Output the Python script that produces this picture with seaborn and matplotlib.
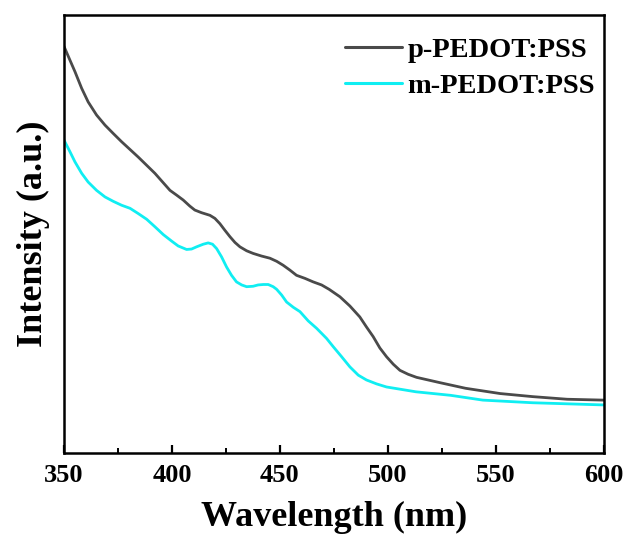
import matplotlib
matplotlib.use("Agg")
import matplotlib.pyplot as plt
import seaborn as sns
import pandas as pd
from matplotlib.ticker import MultipleLocator

sns.set_theme(style="white")
plt.rcParams['font.family'] = ['Liberation Serif', 'DejaVu Serif']
plt.rcParams['font.weight'] = 'bold'
plt.rcParams['text.color'] = 'black'
plt.rcParams['axes.labelcolor'] = 'black'
plt.rcParams['xtick.color'] = 'black'

# p-PEDOT:PSS
p_wl = [350, 352.8, 355.1, 358.2, 361.2, 365.1, 369, 372.8, 376.7, 384.4, 392.1, 399.1,
        402.2, 405.2, 408.3, 410.6, 413.7, 417.6, 419.9, 422.2, 424.5, 426.9, 429.2,
        431.5, 434.6, 437.6, 441.5, 445.4, 448.5, 451.5, 454.6, 457.7, 461.6, 465.4,
        469.3, 472.8, 477.8, 482.4, 487, 490.1, 493.2, 496.3, 499.4, 502.5, 505.6,
        509.4, 513.3, 524, 536, 552, 567, 583, 600]
p_int = [0.929, 0.897, 0.871, 0.833, 0.802, 0.772, 0.749, 0.730, 0.711, 0.676, 0.639, 0.600,
         0.589, 0.578, 0.564, 0.555, 0.549, 0.543, 0.536, 0.524, 0.509, 0.494, 0.481,
         0.471, 0.462, 0.456, 0.450, 0.445, 0.438, 0.429, 0.418, 0.406, 0.399, 0.391,
         0.384, 0.374, 0.357, 0.336, 0.311, 0.288, 0.266, 0.240, 0.220, 0.203, 0.189,
         0.180, 0.173, 0.161, 0.148, 0.136, 0.129, 0.123, 0.121]

# m-PEDOT:PSS
m_wl = [350, 352.8, 355.1, 358.2, 361.2, 365.1, 369, 372.8, 376.7, 380.6, 384.4, 388.3,
        392.1, 396, 399.9, 402.9, 406.8, 409.1, 411.4, 414.5, 416.8, 418.8, 420.7, 423,
        425.3, 427.6, 429.9, 432.3, 434.6, 437.6, 439.9, 442.3, 444.6, 446.9, 448.5,
        450.8, 453.1, 456.2, 459.3, 463.1, 467, 471.6, 474.7, 478.6, 482.4, 486.3,
        490.1, 494.8, 499.4, 513, 529, 544, 567, 600]
m_int = [0.715, 0.688, 0.665, 0.639, 0.619, 0.600, 0.585, 0.575, 0.566, 0.559, 0.547, 0.534,
         0.517, 0.499, 0.484, 0.473, 0.465, 0.466, 0.471, 0.477, 0.480, 0.477, 0.467, 0.448,
         0.425, 0.406, 0.391, 0.384, 0.380, 0.381, 0.384, 0.385, 0.385, 0.380, 0.374,
         0.361, 0.345, 0.333, 0.323, 0.302, 0.285, 0.262, 0.243, 0.220, 0.197, 0.178,
         0.167, 0.158, 0.151, 0.140, 0.132, 0.121, 0.115, 0.110]

df = pd.concat([
    pd.DataFrame({"Wavelength": p_wl, "Intensity": p_int, "Sample": "p-PEDOT:PSS"}),
    pd.DataFrame({"Wavelength": m_wl, "Intensity": m_int, "Sample": "m-PEDOT:PSS"}),
])

fig = plt.figure(figsize=(6.27, 5.42), dpi=100)
ax = fig.add_axes([0.102, 0.164, 0.861, 0.808])
sns.lineplot(data=df, x="Wavelength", y="Intensity", hue="Sample",
             palette={"p-PEDOT:PSS": "#4a4a4a", "m-PEDOT:PSS": "#10eef2"},
             linewidth=2.0, ax=ax, sort=True)
for ln in ax.get_lines():
    ln.set_solid_joinstyle('round')
    ln.set_solid_capstyle('round')

ax.set_xlim(350, 600)
ax.set_ylim(0, 1)
ax.xaxis.set_major_locator(MultipleLocator(50))
ax.xaxis.set_minor_locator(MultipleLocator(25))
ax.set_yticks([])
ax.tick_params(axis='x', which='major', direction='in', length=6, width=1.6,
               labelsize=19, pad=8, bottom=True, top=False)
ax.tick_params(axis='x', which='minor', direction='in', length=3.5, width=1.4,
               bottom=True, top=False)
for lab in ax.get_xticklabels():
    lab.set_fontweight('bold')
for s in ax.spines.values():
    s.set_linewidth(1.8)
    s.set_color('black')

ax.set_xlabel("Wavelength (nm)", fontsize=26, fontweight='bold', labelpad=10)
ax.set_ylabel("Intensity (a.u.)", fontsize=26, fontweight='bold', labelpad=10)

leg = ax.legend(loc='upper right', bbox_to_anchor=(1.008, 0.98), frameon=False,
                handlelength=2.0, handletextpad=0.2, labelspacing=0.38,
                borderaxespad=0.15, borderpad=0.3,
                prop={'weight': 'bold', 'size': 20.5})
for line in leg.get_lines():
    line.set_linewidth(2.2)

fig.savefig("out.png", dpi=100)
